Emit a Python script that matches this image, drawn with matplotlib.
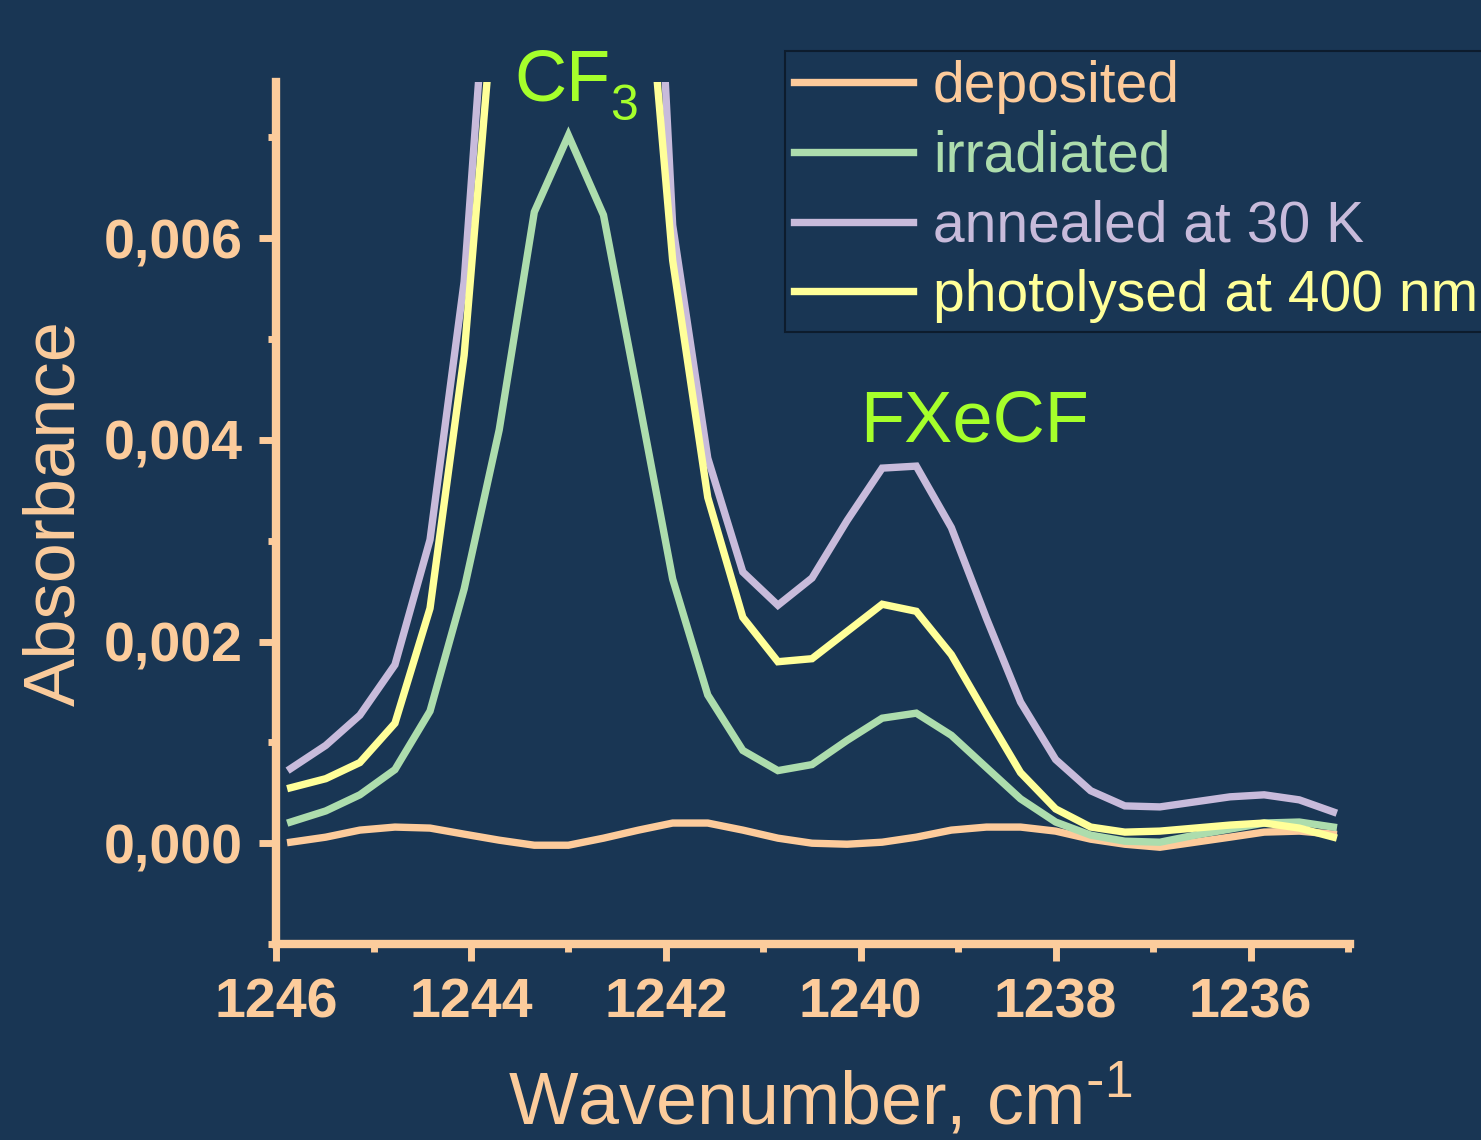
import matplotlib
matplotlib.use('Agg')
import matplotlib.pyplot as plt

plt.rcParams['font.family'] = ['Liberation Sans', 'DejaVu Sans']
plt.rcParams['mathtext.default'] = 'regular'

# spectra (absorbance in units of 1e-4)
wavenumber = [1245.85, 1245.49, 1245.14, 1244.78, 1244.42, 1244.07, 1243.71, 1243.35,
              1243.00, 1242.64, 1242.28, 1241.93, 1241.57, 1241.21, 1240.85, 1240.50,
              1240.14, 1239.78, 1239.43, 1239.07, 1238.71, 1238.36, 1238.00, 1237.64,
              1237.29, 1236.93, 1236.57, 1236.21, 1235.86, 1235.50, 1235.15]

deposited = [0.1, 0.6, 1.3, 1.6, 1.5, 0.9, 0.3, -0.2, -0.2, 0.5, 1.3, 2.0, 2.0, 1.3, 0.5, 0.0,
             -0.1, 0.1, 0.6, 1.3, 1.6, 1.6, 1.2, 0.4, -0.1, -0.4, 0.1, 0.6, 1.1, 1.2, 0.9]
irradiated = [2.1, 3.2, 4.8, 7.3, 13.1, 25.2, 41.0, 62.6, 70.2, 62.3, 44.1, 26.2, 14.7, 9.2,
              7.2, 7.8, 10.2, 12.4, 12.9, 10.7, 7.5, 4.4, 2.1, 0.8, 0.2, 0.1, 0.8, 1.4, 2.0,
              2.1, 1.6]
annealed = [7.4, 9.7, 12.7, 17.7, 30.1, 55.7, 104.0, 160.0, 180.0, 165.0, 127.0, 61.3, 38.2,
            26.9, 23.6, 26.3, 32.0, 37.2, 37.4, 31.3, 22.3, 14.0, 8.3, 5.2, 3.7, 3.6, 4.1,
            4.6, 4.8, 4.3, 3.1]
photolysed = [5.5, 6.4, 8.0, 11.9, 23.3, 48.4, 90.0, 140.0, 160.0, 145.0, 97.0, 57.8, 34.3,
              22.4, 18.0, 18.3, 21.0, 23.7, 23.0, 18.7, 12.7, 7.0, 3.4, 1.6, 1.1, 1.2, 1.5,
              1.8, 2.0, 1.5, 0.6]

labels = ['deposited', 'irradiated', 'annealed at 30 K', 'photolysed at 400 nm']
colors = ['#FDCB9B', '#ADDDAD', '#C8BBDB', '#FFFF99']

xticks = [1246, 1244, 1242, 1240, 1238, 1236]
yticks = [0.000, 0.002, 0.004, 0.006]
ytick_labels = ['0,000', '0,002', '0,004', '0,006']

bg = '#193654'
fg = '#FCCC9C'
green = '#A6FF2B'

fig = plt.figure(figsize=(14.81, 11.40), dpi=100, facecolor=bg)
ax = fig.add_axes([0.1864, 0.1719, 0.7251, 0.7562], facecolor=bg)

series = [deposited, irradiated, annealed, photolysed]
for ys, lab, col in zip(series, labels, colors):
    ax.plot(wavenumber, [v * 1e-4 for v in ys], color=col, lw=5.3, label=lab,
            solid_joinstyle='miter')

ax.set_xlim(1246, 1234.98)
ax.set_ylim(-0.001, 0.00755)

ax.set_xticks(xticks)
ax.set_xticklabels([str(t) for t in xticks])
ax.set_xticks([1245, 1243, 1241, 1239, 1237, 1235], minor=True)
ax.set_yticks(yticks)
ax.set_yticklabels(ytick_labels)
ax.set_yticks([-0.001, 0.001, 0.003, 0.005, 0.007], minor=True)

for side in ['top', 'right']:
    ax.spines[side].set_visible(False)
for side in ['left', 'bottom']:
    ax.spines[side].set_color(fg)
    ax.spines[side].set_linewidth(6)

ax.tick_params(which='major', direction='out', length=12, width=5, color=fg,
               labelcolor=fg, labelsize=40)
ax.tick_params(which='minor', direction='out', length=6, width=5, color=fg)
ax.tick_params(axis='x', which='major', pad=12)
ax.tick_params(axis='y', which='major', pad=12)
for lbl in ax.get_xticklabels() + ax.get_yticklabels():
    lbl.set_fontweight('bold')

ax.set_xlabel(r'Wavenumber, cm$^{\text{-}1}$', fontsize=53, color=fg)
ax.set_ylabel('Absorbance', fontsize=52, color=fg)
ax.xaxis.set_label_coords(0.5065, -0.1375)
ax.yaxis.set_label_coords(-0.174, 0.5)

ax.text(1243.55, 0.00737, 'CF', fontsize=52, color=green, ha='left', va='baseline')
ax.text(1242.57, 0.00717, '3', fontsize=36, color=green, ha='left', va='baseline')
ax.text(1240.01, 0.00398, 'FXeCF', fontsize=52, color=green, ha='left', va='baseline')

leg = ax.legend(loc='upper left', bbox_to_anchor=(785 / 1481, 1 - 51 / 1140),
                bbox_transform=fig.transFigure, fontsize=41, frameon=True,
                fancybox=False, handlelength=2.1, handletextpad=0.35,
                labelspacing=0.28, borderpad=0.15, borderaxespad=0)
leg.get_frame().set_facecolor(bg)
leg.get_frame().set_edgecolor('#0b1624')
leg.get_frame().set_linewidth(1.5)
for txt, col in zip(leg.get_texts(), colors):
    txt.set_color(col)

fig.savefig('out.png', dpi=100, facecolor=bg)
